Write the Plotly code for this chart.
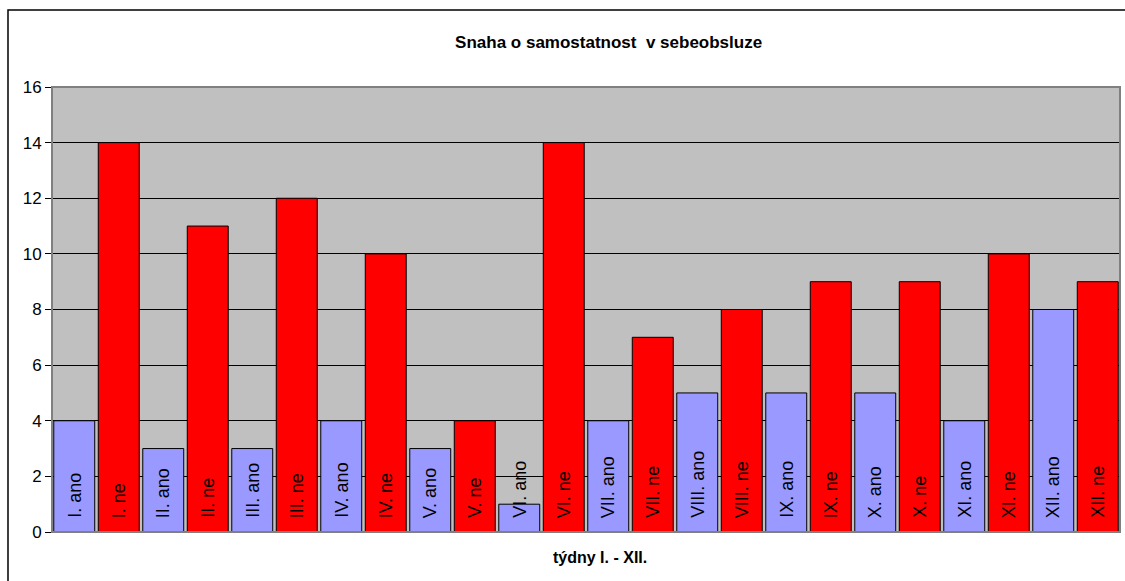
import plotly.graph_objects as go

# --------------------
# Data
# --------------------
WEEKS = ["I.", "II.", "III.", "IV.", "V.", "VI.", "VII.", "VIII.", "IX.", "X.", "XI.", "XII."]
ANO = [4, 3, 3, 4, 3, 1, 4, 5, 5, 5, 4, 8]
NE = [14, 11, 12, 10, 4, 14, 7, 8, 9, 9, 10, 9]

Y_TICKS = [0, 2, 4, 6, 8, 10, 12, 14, 16]

TITLE = "Snaha o samostatnost  v sebeobsluze"
X_TITLE = "týdny I. - XII."

FONT = "Liberation Sans, Arial, sans-serif"
ANO_COLOR = "#9999FF"
NE_COLOR = "#FF0000"

# category order: I. ano, I. ne, II. ano, ...
ano_cats = [f"{w} ano" for w in WEEKS]
ne_cats = [f"{w} ne" for w in WEEKS]
order = [c for pair in zip(ano_cats, ne_cats) for c in pair]

fig = go.Figure()
fig.add_trace(go.Bar(
    x=ano_cats, y=ANO, name="ano",
    marker=dict(color=ANO_COLOR, line=dict(color="black", width=1)),
))
fig.add_trace(go.Bar(
    x=ne_cats, y=NE, name="ne",
    marker=dict(color=NE_COLOR, line=dict(color="black", width=1)),
))

# vertical labels inside bars, starting near the base
for cat in order:
    fig.add_annotation(
        x=cat, y=0, xref="x", yref="y",
        text=cat, textangle=-90, showarrow=False,
        xanchor="center", yanchor="bottom", yshift=12,
        font=dict(family=FONT, size=18, color="black"),
    )

fig.add_annotation(
    x=0.513, y=-0.058, xref="paper", yref="paper",
    text=f"<b>{X_TITLE}</b>", showarrow=False,
    xanchor="center", yanchor="middle",
    font=dict(family=FONT, size=16, color="black"),
)

# plot area border (grey, Excel style) and outer chart border
fig.add_shape(type="rect", xref="paper", yref="paper", x0=0, x1=1, y0=0, y1=1,
              line=dict(color="#808080", width=2), layer="above")
fig.add_shape(type="rect", xref="paper", yref="paper",
              x0=-0.0412, x1=1.05, y0=-0.3, y1=1.173,
              line=dict(color="black", width=1.5))

fig.update_layout(
    width=1125, height=581,
    margin=dict(l=52, r=5, t=87, b=49),
    paper_bgcolor="white",
    plot_bgcolor="#C0C0C0",
    barmode="overlay",
    bargap=0.08,
    showlegend=False,
    font=dict(family=FONT, size=17, color="black"),
    title=dict(
        text=f"<b>{TITLE}</b>", x=0.541, xanchor="center",
        y=1 - 42 / 581, yref="container", yanchor="middle",
        font=dict(family=FONT, size=17, color="black"),
    ),
    xaxis=dict(
        type="category", categoryorder="array", categoryarray=order,
        showticklabels=False, ticks="", showgrid=False,
        showline=True, linecolor="black", linewidth=1,
    ),
    yaxis=dict(
        range=[0, 16], tickvals=Y_TICKS, ticks="outside", ticklen=6,
        tickcolor="black", showgrid=True, gridcolor="black", gridwidth=1,
        showline=True, linecolor="black", linewidth=1, zeroline=False,
        tickfont=dict(family=FONT, size=17, color="black"),
    ),
)

fig.write_html("out.html", config={"displayModeBar": False},
               post_script="document.body.style.margin='0';")
